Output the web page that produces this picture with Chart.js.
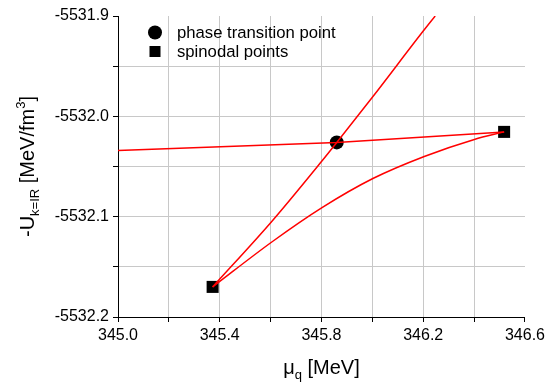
<!DOCTYPE html>
<html>
<head>
<meta charset="utf-8">
<script src="https://cdn.jsdelivr.net/npm/chart.js@4"></script>
<style>
  body { margin: 0; background: #fff; }
  canvas { display: block; }
</style>
</head>
<body>
<canvas id="myChart" width="549" height="385"></canvas>
<script>
// values
var flatBranch = [[345.0, -5532.034], [345.86, -5532.026], [346.518, -5532.0155]];
var steepBranch = [[345.372, -5532.170], [345.607, -5532.104], [345.80, -5532.045], [345.86, -5532.026], [346.0, -5531.981], [346.2, -5531.915], [346.247, -5531.9]];
var curvedBranch = [[345.372, -5532.170], [345.606, -5532.125], [345.802, -5532.091], [346.002, -5532.062], [346.204, -5532.040], [346.401, -5532.023], [346.518, -5532.0155]];
var transitionPoint = [[345.86, -5532.026]];
var spinodalPoints = [[345.372, -5532.170], [346.518, -5532.0155]];
var legendLabels = ['phase transition point', 'spinodal points'];
var xTickLabels = ['345.0', '345.4', '345.8', '346.2', '346.6'];
var yTickLabels = ['-5532.2', '-5532.1', '-5532.0', '-5531.9'];

var FONT = "'Liberation Sans', Arial, sans-serif";

function pts(arr) {
    return arr.map(function (p) { return { x: p[0], y: p[1] }; });
}

function lineSet(arr, smooth) {
    return {
        data: pts(arr),
        borderColor: '#ff0000',
        borderWidth: 1.5,
        pointRadius: 0,
        fill: false,
        cubicInterpolationMode: smooth ? 'monotone' : 'default',
        tension: 0
    };
}

// axis titles and legend drawn by hand (sub/superscripts)
var extrasPlugin = {
    id: 'extras',
    afterDraw: function (chart) {
        var ctx = chart.ctx;
        var area = chart.chartArea;
        ctx.save();
        ctx.fillStyle = '#000';
        ctx.textBaseline = 'alphabetic';
        ctx.textAlign = 'left';

        function runs(parts) {
            var w = 0;
            parts.forEach(function (p) {
                ctx.font = p[1] + 'px ' + FONT;
                w += ctx.measureText(p[0]).width;
            });
            return w;
        }
        function drawRuns(parts, x, y) {
            parts.forEach(function (p) {
                ctx.font = p[1] + 'px ' + FONT;
                ctx.fillText(p[0], x, y + p[2]);
                x += ctx.measureText(p[0]).width;
            });
        }

        // x title
        var xParts = [['\u03bc', 20, 0], ['q', 13, 5], [' [MeV]', 20, 0]];
        var xw = runs(xParts);
        drawRuns(xParts, (area.left + area.right) / 2 - xw / 2, 374);

        // y title
        var yParts = [['-U', 20, 0], ['k=IR', 13, 5], [' [MeV/fm', 20, 0], ['3', 13, -9], [']', 20, 0]];
        var yw = runs(yParts);
        ctx.translate(34, (area.top + area.bottom) / 2);
        ctx.rotate(-Math.PI / 2);
        drawRuns(yParts, -yw / 2, 0);
        ctx.restore();

        // legend
        ctx.save();
        ctx.fillStyle = '#000';
        ctx.beginPath();
        ctx.arc(155, 32.5, 7, 0, Math.PI * 2);
        ctx.fill();
        ctx.fillRect(149.5, 46, 11, 11);
        ctx.font = '16.7px ' + FONT;
        ctx.textBaseline = 'middle';
        ctx.fillText(legendLabels[0], 177, 33);
        ctx.fillText(legendLabels[1], 177, 52);
        ctx.restore();
    }
};

function isLabelled(v, list) {
    return list.indexOf(v.toFixed(1)) !== -1 && Math.abs(Math.round(v * 10) - v * 10) < 1e-6;
}

var ctx = document.getElementById('myChart').getContext('2d');
var myChart = new Chart(ctx, {
    type: 'line',
    data: {
        datasets: [
            lineSet(flatBranch, false),
            lineSet(steepBranch, true),
            lineSet(curvedBranch, true),
            {
                data: pts(transitionPoint),
                showLine: false,
                pointStyle: 'circle',
                pointRadius: 7,
                backgroundColor: '#000',
                borderColor: '#000',
                borderWidth: 0
            },
            {
                data: pts(spinodalPoints),
                showLine: false,
                pointStyle: 'rect',
                pointRadius: 8.5,
                backgroundColor: '#000',
                borderColor: '#000',
                borderWidth: 0
            }
        ]
    },
    options: {
        responsive: false,
        animation: false,
        layout: { padding: { top: 16, right: 21, left: 0, bottom: 0 } },
        plugins: {
            legend: { display: false },
            tooltip: { enabled: false }
        },
        scales: {
            x: {
                type: 'linear',
                min: 345.0,
                max: 346.6,
                afterFit: function (scale) { scale.height = 68; },
                border: { color: '#000', width: 1 },
                grid: {
                    color: function (c) { return c.tick && Math.abs(c.tick.value - 346.6) < 1e-6 ? 'rgba(0,0,0,0)' : '#c8c8c8'; },
                    tickColor: '#000',
                    tickLength: 5
                },
                ticks: {
                    stepSize: 0.2,
                    autoSkip: false,
                    maxRotation: 0,
                    padding: 4,
                    color: '#000',
                    font: { family: FONT, size: 16 },
                    callback: function (v) { return isLabelled(v, xTickLabels) ? v.toFixed(1) : ''; }
                }
            },
            y: {
                type: 'linear',
                min: -5532.2,
                max: -5531.9,
                afterFit: function (scale) { scale.width = 118; },
                border: { color: '#000', width: 1 },
                grid: {
                    color: function (c) { return c.tick && Math.abs(c.tick.value + 5531.9) < 1e-6 ? 'rgba(0,0,0,0)' : '#c8c8c8'; },
                    tickColor: '#000',
                    tickLength: 5
                },
                ticks: {
                    stepSize: 0.05,
                    autoSkip: false,
                    padding: 4,
                    color: '#000',
                    font: { family: FONT, size: 16 },
                    callback: function (v) { return isLabelled(v, yTickLabels) ? v.toFixed(1) : ''; }
                }
            }
        }
    },
    plugins: [extrasPlugin]
});
</script>
</body>
</html>
